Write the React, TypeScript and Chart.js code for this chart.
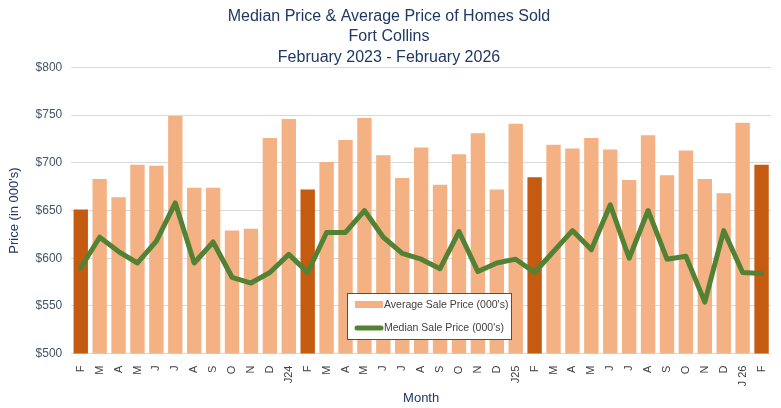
import React, { useEffect, useRef } from "react";
import { Chart, registerables } from "chart.js";

Chart.register(...registerables);

const months = [
  "F", "M", "A", "M", "J", "J", "A", "S", "O", "N", "D", "J24",
  "F", "M", "A", "M", "J", "J", "A", "S", "O", "N", "D", "J25",
  "F", "M", "A", "M", "J", "J", "A", "S", "O", "N", "D", "J 26", "F",
];

const averagePrice = [
  651, 683, 664, 698, 697, 749, 674, 674, 629, 631, 726, 746,
  672, 701, 724, 747, 708, 684, 716, 677, 709, 731, 672, 741,
  685, 719, 715, 726, 714, 682, 729, 687, 713, 683, 668, 742, 698,
];

const medianPrice = [
  590, 622, 607, 595, 618, 658, 595, 617, 580, 574, 585, 604,
  585, 627, 627, 650, 622, 605, 599, 589, 628, 586, 595, 599,
  585, 607, 629, 609, 656, 600, 650, 599, 602, 554, 629, 585, 584,
];

const titleLines = [
  "Median Price & Average Price of Homes Sold",
  "Fort Collins",
  "February 2023 - February 2026",
];

const avgLabel = "Average Sale Price (000's)";
const medLabel = "Median Sale Price (000's)";

const LIGHT = "#F4B183";
const DARK = "#C55A11";
const GREEN = "#548235";
const FONT = "'Liberation Sans', Arial, sans-serif";

const legendPlugin = {
  id: "boxLegend",
  afterDraw(chart: any) {
    const ctx = chart.ctx;
    const x = 347, y = 293, w = 164, h = 46;
    ctx.save();
    ctx.fillStyle = "#FFFFFF";
    ctx.fillRect(x, y, w, h);
    ctx.strokeStyle = "#2F5597";
    ctx.lineWidth = 1;
    ctx.strokeRect(x + 0.5, y + 0.5, w, h);
    ctx.fillStyle = LIGHT;
    ctx.fillRect(x + 8, y + 8, 28, 7);
    ctx.strokeStyle = GREEN;
    ctx.lineWidth = 5;
    ctx.lineCap = "round";
    ctx.beginPath();
    ctx.moveTo(x + 10, y + 35);
    ctx.lineTo(x + 34, y + 35);
    ctx.stroke();
    ctx.fillStyle = "#404040";
    ctx.font = "10.5px 'Liberation Sans', Arial, sans-serif";
    ctx.textBaseline = "middle";
    ctx.fillText(avgLabel, x + 37, y + 12);
    ctx.fillText(medLabel, x + 37, y + 35);
    ctx.restore();
  },
};

export default function App() {
  const ref = useRef<HTMLCanvasElement>(null);
  useEffect(() => {
    document.body.style.margin = "0";
    const chart = new Chart(ref.current as HTMLCanvasElement, {
      type: "bar",
      data: {
        labels: months,
        datasets: [
          {
            type: "line",
            label: medLabel,
            data: medianPrice,
            borderColor: GREEN,
            borderWidth: 5,
            pointRadius: 0,
            tension: 0,
            borderJoinStyle: "round",
            borderCapStyle: "round",
            order: 0,
          } as any,
          {
            type: "bar",
            label: avgLabel,
            data: averagePrice,
            backgroundColor: months.map((m) => (m === "F" ? DARK : LIGHT)),
            barPercentage: 0.76,
            categoryPercentage: 1,
            order: 1,
          },
        ],
      },
      options: {
        animation: false,
        responsive: true,
        maintainAspectRatio: false,
        layout: { padding: { left: 7, right: 10, top: 6, bottom: 2 } },
        plugins: {
          legend: { display: false },
          tooltip: { enabled: false },
          title: {
            display: true,
            text: titleLines,
            color: "#1F3864",
            font: { family: FONT, size: 16, weight: "normal", lineHeight: 1.28 },
            padding: { top: 0, bottom: 0 },
          },
        },
        scales: {
          x: {
            grid: { display: false },
            border: { display: false },
            ticks: {
              minRotation: 90,
              maxRotation: 90,
              autoSkip: false,
              color: "#404040",
              font: { family: FONT, size: 11 },
              padding: 4,
            },
            title: {
              display: true,
              text: "Month",
              color: "#1F3864",
              font: { family: FONT, size: 13 },
              padding: { top: 0, bottom: 0 },
            },
          },
          y: {
            min: 500,
            max: 800,
            grid: { color: "#D9D9D9", drawTicks: false },
            border: { display: false },
            ticks: {
              stepSize: 50,
              color: "#44546A",
              font: { family: FONT, size: 12 },
              padding: 9,
              callback: (v: any) => "$" + v,
            },
            title: {
              display: true,
              text: "Price (in 000's)",
              color: "#1F3864",
              font: { family: FONT, size: 13 },
              padding: { top: 0, bottom: 4 },
            },
          },
        },
      },
      plugins: [legendPlugin],
    });
    return () => chart.destroy();
  }, []);
  return (
    <div style={{ width: 781, height: 408, position: "relative" }}>
      <canvas ref={ref} />
    </div>
  );
}
